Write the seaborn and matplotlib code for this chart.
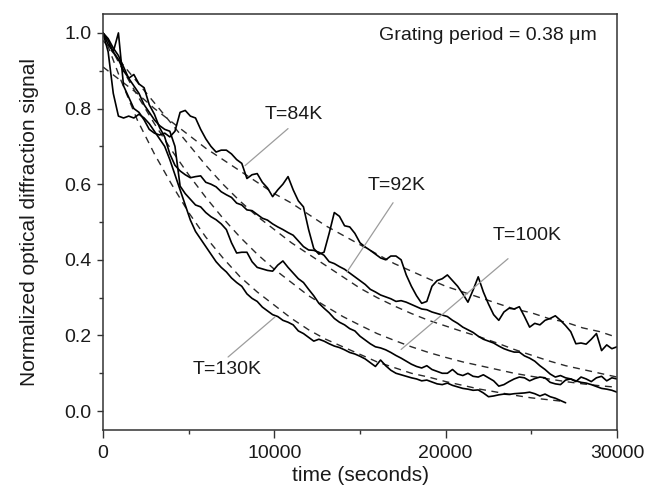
import numpy as np
import pandas as pd
import matplotlib
matplotlib.use("Agg")
import matplotlib.pyplot as plt
import seaborn as sns
from matplotlib.ticker import MultipleLocator, FormatStrFormatter, FixedLocator

# ---------------- data ----------------
# measured signals, sampled every 300 s
time_84 = np.arange(0, 30001, 300)
sig_84 = [
    1.00, 0.97, 0.95, 1.00, 0.86, 0.83, 0.80, 0.79, 0.77, 0.745,
    0.735, 0.73, 0.735, 0.725, 0.74, 0.79, 0.795, 0.78, 0.775, 0.745,
    0.72, 0.70, 0.685, 0.69, 0.69, 0.68, 0.665, 0.655, 0.615, 0.625,
    0.628, 0.605, 0.59, 0.567, 0.585, 0.60, 0.62, 0.585, 0.556, 0.54,
    0.48, 0.43, 0.415, 0.42, 0.47, 0.525, 0.515, 0.49, 0.487, 0.47,
    0.445, 0.434, 0.425, 0.415, 0.405, 0.40, 0.41, 0.41, 0.40, 0.36,
    0.33, 0.305, 0.285, 0.29, 0.33, 0.345, 0.35, 0.36, 0.345, 0.33,
    0.31, 0.288, 0.32, 0.355, 0.315, 0.283, 0.255, 0.24, 0.262, 0.272,
    0.27, 0.276, 0.25, 0.222, 0.232, 0.228, 0.24, 0.245, 0.252, 0.24,
    0.226, 0.21, 0.178, 0.18, 0.177, 0.19, 0.205, 0.16, 0.175, 0.165,
    0.17,
]

time_92 = np.arange(0, 30001, 300)
sig_92 = [
    1.00, 0.98, 0.95, 0.93, 0.90, 0.88, 0.89, 0.865, 0.855, 0.81,
    0.785, 0.75, 0.725, 0.68, 0.65, 0.635, 0.625, 0.617, 0.62, 0.622,
    0.605, 0.60, 0.593, 0.58, 0.572, 0.565, 0.55, 0.545, 0.532, 0.53,
    0.52, 0.51, 0.505, 0.495, 0.487, 0.48, 0.472, 0.465, 0.45, 0.435,
    0.426, 0.425, 0.42, 0.412, 0.395, 0.39, 0.382, 0.375, 0.365, 0.355,
    0.345, 0.335, 0.322, 0.315, 0.307, 0.302, 0.297, 0.29, 0.292, 0.288,
    0.282, 0.276, 0.27, 0.268, 0.262, 0.258, 0.254, 0.25, 0.24, 0.232,
    0.222, 0.215, 0.208, 0.198, 0.19, 0.185, 0.18, 0.172, 0.165, 0.16,
    0.156, 0.156, 0.146, 0.14, 0.132, 0.12, 0.11, 0.098, 0.09, 0.094,
    0.088, 0.085, 0.08, 0.076, 0.074, 0.07, 0.065, 0.06, 0.058, 0.055,
    0.05,
]

time_100 = np.arange(0, 30001, 300)
sig_100 = [
    1.00, 0.985, 0.96, 0.94, 0.91, 0.88, 0.86, 0.84, 0.81, 0.79,
    0.77, 0.755, 0.745, 0.74, 0.70, 0.595, 0.575, 0.56, 0.545, 0.54,
    0.525, 0.514, 0.506, 0.495, 0.48, 0.445, 0.418, 0.42, 0.42, 0.395,
    0.38, 0.376, 0.372, 0.37, 0.386, 0.397, 0.38, 0.365, 0.35, 0.34,
    0.322, 0.305, 0.285, 0.272, 0.26, 0.245, 0.235, 0.228, 0.218, 0.212,
    0.198, 0.188, 0.178, 0.17, 0.167, 0.162, 0.155, 0.147, 0.14, 0.132,
    0.124, 0.118, 0.114, 0.12, 0.11, 0.105, 0.10, 0.10, 0.11, 0.098,
    0.094, 0.10, 0.092, 0.09, 0.096, 0.088, 0.08, 0.066, 0.07, 0.078,
    0.085, 0.09, 0.088, 0.08, 0.086, 0.09, 0.088, 0.076, 0.072, 0.07,
    0.082, 0.085, 0.078, 0.09, 0.085, 0.078, 0.088, 0.092, 0.08, 0.088,
    0.085,
]

time_130 = np.arange(0, 27001, 300)
sig_130 = [
    1.00, 0.95, 0.84, 0.78, 0.775, 0.78, 0.775, 0.785, 0.775, 0.76,
    0.74, 0.72, 0.70, 0.665, 0.625, 0.585, 0.545, 0.505, 0.475, 0.455,
    0.435, 0.415, 0.395, 0.38, 0.368, 0.352, 0.34, 0.33, 0.31, 0.298,
    0.29, 0.275, 0.265, 0.255, 0.25, 0.24, 0.235, 0.228, 0.212, 0.205,
    0.195, 0.185, 0.19, 0.185, 0.178, 0.172, 0.168, 0.162, 0.155, 0.151,
    0.145, 0.138, 0.128, 0.118, 0.135, 0.12, 0.108, 0.10, 0.096, 0.092,
    0.088, 0.085, 0.08, 0.082, 0.077, 0.072, 0.07, 0.074, 0.068, 0.064,
    0.06, 0.058, 0.055, 0.056, 0.048, 0.038, 0.04, 0.043, 0.045, 0.044,
    0.046, 0.047, 0.048, 0.05, 0.046, 0.04, 0.045, 0.038, 0.034, 0.028,
    0.022,
]

# fitted curves (dashed), sampled every 1000 s
fit_time = np.arange(0, 30001, 1000)
fit_84 = [0.91, 0.875, 0.84, 0.80, 0.765, 0.73, 0.695, 0.665, 0.635, 0.605,
          0.575, 0.55, 0.52, 0.49, 0.465, 0.44, 0.415, 0.39, 0.37, 0.35,
          0.33, 0.315, 0.30, 0.285, 0.27, 0.26, 0.245, 0.235, 0.22, 0.21, 0.195]
fit_92 = [0.98, 0.925, 0.87, 0.815, 0.76, 0.705, 0.65, 0.60, 0.555, 0.515,
          0.48, 0.445, 0.415, 0.385, 0.355, 0.325, 0.30, 0.278, 0.258, 0.24,
          0.225, 0.21, 0.196, 0.18, 0.163, 0.148, 0.133, 0.12, 0.11, 0.10, 0.09]
fit_100 = [1.0, 0.915, 0.835, 0.76, 0.69, 0.625, 0.565, 0.51, 0.46, 0.415,
           0.375, 0.34, 0.305, 0.277, 0.25, 0.227, 0.205, 0.187, 0.17, 0.155,
           0.142, 0.13, 0.12, 0.11, 0.10, 0.092, 0.085, 0.078, 0.072, 0.067, 0.063]
fit_time_130 = np.arange(0, 27001, 1000)
fit_130 = [1.0, 0.88, 0.77, 0.68, 0.60, 0.525, 0.46, 0.405, 0.355, 0.315,
           0.28, 0.245, 0.215, 0.19, 0.17, 0.15, 0.13, 0.115, 0.10, 0.09,
           0.078, 0.068, 0.058, 0.05, 0.042, 0.035, 0.03, 0.025]

labels = ["T=84K", "T=92K", "T=100K", "T=130K"]
xticks = [0, 10000, 20000, 30000]
yticks = [0.0, 0.2, 0.4, 0.6, 0.8, 1.0]

# ---------------- style ----------------
sns.set_theme(style="ticks")
plt.rcParams["font.family"] = ["Liberation Sans", "DejaVu Sans"]
plt.rcParams["axes.formatter.useoffset"] = False

fig = plt.figure(figsize=(6.45, 4.88), dpi=100)
ax = fig.add_axes([103 / 645, 1 - 430 / 488, 514 / 645, 416 / 488])

measured = [(time_84, sig_84), (time_92, sig_92), (time_100, sig_100), (time_130, sig_130)]
fits = [(fit_time, fit_84), (fit_time, fit_92), (fit_time, fit_100), (fit_time_130, fit_130)]

for (t, v) in fits:
    df = pd.DataFrame({"t": t, "v": v})
    sns.lineplot(data=df, x="t", y="v", ax=ax, color="#2a2a2a", lw=1.0,
                 linestyle=(0, (5, 4)), estimator=None, sort=False)

for (t, v) in measured:
    df = pd.DataFrame({"t": t, "v": v})
    sns.lineplot(data=df, x="t", y="v", ax=ax, color="black", lw=1.2,
                 estimator=None, sort=False)

# leader lines and labels
gray = "#9c9c9c"
leaders = [((10800, 0.747), (8290, 0.649)),
           ((16930, 0.551), (14240, 0.368)),
           ((23640, 0.403), (17400, 0.163)),
           ((7300, 0.143), (10040, 0.249))]
text_pos = [(11150, 0.784), (17160, 0.596), (24750, 0.464), (7240, 0.109)]
for lab, (p0, p1), (tx, ty) in zip(labels, leaders, text_pos):
    ax.plot([p0[0], p1[0]], [p0[1], p1[1]], color=gray, lw=0.9)
    ax.text(tx, ty, lab, fontsize=14, ha="center", va="center", color="#1a1a1a")

ax.text(28840, 0.993, "Grating period = 0.38 \u03bcm", fontsize=14,
        ha="right", va="center", color="#1a1a1a")

ax.set_xlim(0, 30000)
ax.set_ylim(-0.05, 1.05)
ax.xaxis.set_major_locator(FixedLocator(xticks))
ax.xaxis.set_minor_locator(MultipleLocator(5000))
ax.yaxis.set_major_locator(FixedLocator(yticks))
ax.yaxis.set_minor_locator(MultipleLocator(0.1))
ax.yaxis.set_major_formatter(FormatStrFormatter("%.1f"))

ax.tick_params(axis="both", which="major", direction="out", width=1.0,
               labelsize=14, colors="#333333", labelcolor="#1a1a1a")
ax.tick_params(axis="x", which="major", length=5.5, pad=5)
ax.tick_params(axis="y", which="major", length=4.5, pad=4)
ax.tick_params(axis="both", which="minor", direction="out", width=1.0,
               length=3, colors="#333333")
for s in ax.spines.values():
    s.set_linewidth(1.1)
    s.set_color("#333333")
    s.set_visible(True)

ax.set_xlabel("time (seconds)", fontsize=15, color="#1a1a1a", labelpad=3)
ax.set_ylabel("Normalized optical diffraction signal", fontsize=15,
              color="#1a1a1a", labelpad=18)

fig.savefig("out.png", dpi=100)
